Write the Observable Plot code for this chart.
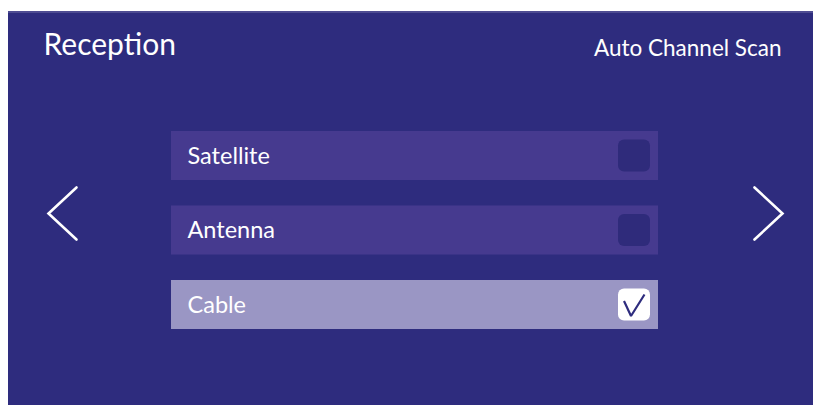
<!DOCTYPE html>
<html><head><meta charset="utf-8">
<script src="https://cdn.jsdelivr.net/npm/d3@7"></script>
<script src="https://cdn.jsdelivr.net/npm/@observablehq/plot@0.6"></script>
<style>html,body{margin:0;padding:0;background:#fff}</style>
</head><body><div id="chart"></div>
<script>
// ---- content ----
const screenTitle = "Reception";
const actionLabel = "Auto Channel Scan";
const options = ["Satellite", "Antenna", "Cable"];
const checked = [false, false, true];

// ---- layout ----
const W = 813, H = 405;
const panel = {x1: 8, x2: W, y1: 11, y2: H};
const rowX1 = 171, rowX2 = 658, rowTop = 131, rowStep = 74.5, rowH = 49;
const boxSize = 32, boxRight = 650;
const arrowCY = 213, arrowHalf = 26, arrowDepth = 28;
const leftArrowX = 48, rightArrowX = 782;

const C = {
  panel: "#2e2c7e",
  row: "#463a8f",
  rowSel: "#9a96c4",
  boxOff: "#2f2b7b",
  boxOn: "#ffffff",
  tick: "#2e2c7e",
  text: "#ffffff"
};

const rows = options.map((label, i) => {
  const y1 = rowTop + i * rowStep;
  return {label, checked: checked[i], y1, y2: y1 + rowH, cy: y1 + rowH / 2};
});
const boxes = rows.map(r => ({
  checked: r.checked,
  x1: boxRight - boxSize, x2: boxRight,
  y1: r.cy - boxSize / 2, y2: r.cy + boxSize / 2
}));
const ticks = rows.filter(r => r.checked).map(r => {
  const bx = boxRight - boxSize, by = r.cy - boxSize / 2;
  return [
    {x: bx + 5.5, y: by + 12},
    {x: bx + 12.5, y: by + 27},
    {x: bx + 26, y: by + 5.5}
  ];
});
const leftArrow = [
  {x: leftArrowX + arrowDepth, y: arrowCY - arrowHalf},
  {x: leftArrowX, y: arrowCY},
  {x: leftArrowX + arrowDepth, y: arrowCY + arrowHalf}
];
const rightArrow = [
  {x: rightArrowX - arrowDepth, y: arrowCY - arrowHalf},
  {x: rightArrowX, y: arrowCY},
  {x: rightArrowX - arrowDepth, y: arrowCY + arrowHalf}
];

const chart = Plot.plot({
  width: W, height: H,
  margin: 0,
  style: {background: "#fff", fontFamily: "Lato"},
  x: {domain: [0, W], range: [0, W], axis: null},
  y: {domain: [0, H], range: [0, H], axis: null},
  marks: [
    Plot.rect([panel], {x1: "x1", x2: "x2", y1: "y1", y2: "y2", fill: C.panel}),
    Plot.ruleY([panel.y1 + 0.5], {x1: panel.x1, x2: panel.x2, stroke: "#6f6da6", strokeWidth: 1}),
    Plot.rect(rows, {x1: rowX1, x2: rowX2, y1: "y1", y2: "y2", fill: d => d.checked ? C.rowSel : C.row}),
    Plot.rect(boxes, {x1: "x1", x2: "x2", y1: "y1", y2: "y2", rx: 6, fill: d => d.checked ? C.boxOn : C.boxOff}),
    ...ticks.map(t => Plot.line(t, {x: "x", y: "y", stroke: C.tick, strokeWidth: 2.2, strokeLinejoin: "miter", strokeLinecap: "butt"})),
    Plot.text(rows, {x: 187, y: "cy", text: "label", textAnchor: "start", lineAnchor: "middle", fill: C.text, fontSize: 23.5, fontFamily: "Lato"}),
    Plot.text([screenTitle], {x: 43, y: 45, text: d => d, textAnchor: "start", lineAnchor: "middle", fill: C.text, fontSize: 30, fontFamily: "Lato"}),
    Plot.text([actionLabel], {x: 781, y: 48, text: d => d, textAnchor: "end", lineAnchor: "middle", fill: C.text, fontSize: 22.5, fontFamily: "Lato"}),
    Plot.line(leftArrow, {x: "x", y: "y", stroke: "#fff", strokeWidth: 2.6, strokeLinejoin: "miter", strokeMiterlimit: 10}),
    Plot.line(rightArrow, {x: "x", y: "y", stroke: "#fff", strokeWidth: 2.6, strokeLinejoin: "miter", strokeMiterlimit: 10})
  ]
});
document.getElementById("chart").appendChild(chart);
</script>
</body></html>
